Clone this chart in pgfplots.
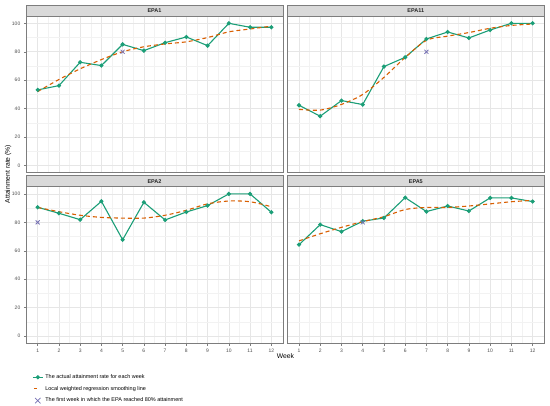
\documentclass[border=0pt]{standalone}
\usepackage{fontspec}
\setmainfont{Liberation Sans}
\usepackage{pgfplots}
\usepackage{pgfplotstable}
\pgfplotsset{compat=1.18}
\definecolor{dgreen}{RGB}{27,158,119}
\definecolor{dorange}{RGB}{217,95,2}
\definecolor{dpurple}{RGB}{117,112,179}
\definecolor{bordercol}{RGB}{125,125,125}
\definecolor{stripfill}{RGB}{217,217,217}
\definecolor{gridmaj}{RGB}{230,230,230}
\definecolor{gridmin}{RGB}{242,242,242}
\definecolor{ticklab}{RGB}{77,77,77}

\pgfplotstableread{
week epaA epaAs epaB epaBs epaC epaCs epaD epaDs
1  53.2 52.0 42.4 39.5 90.6 90.5 64.3 67.0
2  56.2 60.5 34.7 39.0 86.4 87.5 78.4 72.0
3  72.6 68.0 45.7 43.0 81.9 85.0 73.5 76.5
4  70.3 74.5 42.9 50.0 94.8 83.5 80.8 80.5
5  85.2 80.0 69.6 62.0 67.8 83.0 83.1 84.0
6  80.8 83.5 76.1 76.0 94.1 83.0 97.4 89.0
7  86.4 85.5 89.0 88.0 81.7 85.0 87.6 90.5
8  90.4 87.0 93.9 91.0 87.3 88.5 91.5 90.5
9  84.3 90.0 89.7 93.5 91.8 93.0 88.0 91.5
10 100.0 94.0 95.3 96.5 100.0 95.0 97.2 93.0
11 97.2 96.0 100.0 98.5 100.0 94.5 97.2 94.5
12 97.2 98.0 100.0 99.5 87.1 91.0 94.6 95.5
}\datatable

\pgfplotsset{
 facet/.style={
  scale only axis, width=257bp, height=156.5bp,
  xmin=0.45, xmax=12.55, ymin=-5, ymax=105,
  xtick={1,...,12}, ytick={0,20,...,100},
  minor xtick={1.5,2.5,...,11.5}, minor ytick={10,30,...,90},
  grid=both,
  major grid style={draw=gridmaj, line width=0.55bp},
  minor grid style={draw=gridmin, line width=0.3bp},
  axis line style={draw=bordercol, line width=0.6bp},
  tick align=outside, major tick length=2.2bp, minor tick length=0pt,
  xtick pos=bottom, ytick pos=left,
  tick style={draw=bordercol, line width=0.5bp},
  tick label style={font=\fontsize{5}{6}\selectfont, text=ticklab},
  /pgf/number format/assume math mode=true,
 },
 notopx/.style={xmajorticks=false},
 noy/.style={ymajorticks=false},
 actual/.style={dgreen, line width=1.1bp, mark=*, mark size=1.5bp},
 loess/.style={dorange, line width=1.1bp, dash pattern=on 4bp off 3bp, smooth, no marks},
 firstw/.style={dpurple, only marks, mark=x, mark size=2.8bp, mark options={line width=0.8bp}},
}

\newcommand{\strip}[2]{%
  \draw[fill=stripfill, draw=bordercol, line width=0.6bp] (#1.north west) rectangle ([yshift=11bp]#1.north east);
  \node[font=\fontsize{5.5}{6.6}\selectfont\bfseries, text=black!85] at ([yshift=5.5bp]#1.north) {#2};
}

\begin{document}
\begin{tikzpicture}
\useasboundingbox (0,0) rectangle (550bp,406bp);

% EPA1
\begin{axis}[facet, notopx, name=a1, at={(26bp,233.3bp)}, anchor=south west]
\addplot[actual] table[x=week, y=epaA] {\datatable};
\addplot[loess] table[x=week, y=epaAs] {\datatable};
\addplot[firstw] coordinates {(5,80)};
\end{axis}
\strip{a1}{EPA1}

% EPA11
\begin{axis}[facet, notopx, noy, name=a2, at={(287.3bp,233.3bp)}, anchor=south west]
\addplot[actual] table[x=week, y=epaB] {\datatable};
\addplot[loess] table[x=week, y=epaBs] {\datatable};
\addplot[firstw] coordinates {(7,80)};
\end{axis}
\strip{a2}{EPA11}

% EPA2
\begin{axis}[facet, name=a3, at={(26bp,62.7bp)}, anchor=south west,
  legend style={at={(0.012,-0.173)}, anchor=north west, draw=none, fill=none,
    font=\fontsize{5.5}{6.6}\selectfont, cells={anchor=west}, row sep=2.2bp,
    /tikz/every even column/.append style={column sep=3bp}},
  legend cell align=left]
\addplot[actual, legend image code/.code={\draw[dgreen, line width=1.1bp] (0bp,0bp) -- (10bp,0bp); \fill[dgreen] (5bp,0bp) circle (1.5bp);}] table[x=week, y=epaC] {\datatable};
\addlegendentry{The actual attainment rate for each week}
\addplot[loess, legend image code/.code={\path (0bp,-2.5bp) (10bp,2.5bp); \draw[dorange, line width=1.1bp, solid] (1bp,0bp) -- (4.5bp,0bp);}] table[x=week, y=epaCs] {\datatable};
\addlegendentry{Local weighted regression smoothing line}
\addplot[firstw, legend image code/.code={\path (0bp,-2.5bp) (10bp,2.5bp); \draw[dpurple, line width=0.7bp] (2.3bp,-2.7bp) -- (7.7bp,2.7bp) (2.3bp,2.7bp) -- (7.7bp,-2.7bp);}] coordinates {(1,80)};
\addlegendentry{The first week in which the EPA reached 80\% attainment}
\end{axis}
\strip{a3}{EPA2}

% EPA5
\begin{axis}[facet, noy, name=a4, at={(287.3bp,62.7bp)}, anchor=south west]
\addplot[actual] table[x=week, y=epaD] {\datatable};
\addplot[loess] table[x=week, y=epaDs] {\datatable};
\addplot[firstw] coordinates {(4,80)};
\end{axis}
\strip{a4}{EPA5}

\node[font=\fontsize{6.8}{8}\selectfont] at (285.5bp,50bp) {Week};
\node[font=\fontsize{6.8}{8}\selectfont, rotate=90] at (8bp,232bp) {Attainment rate (\%)};
\end{tikzpicture}
\end{document}
